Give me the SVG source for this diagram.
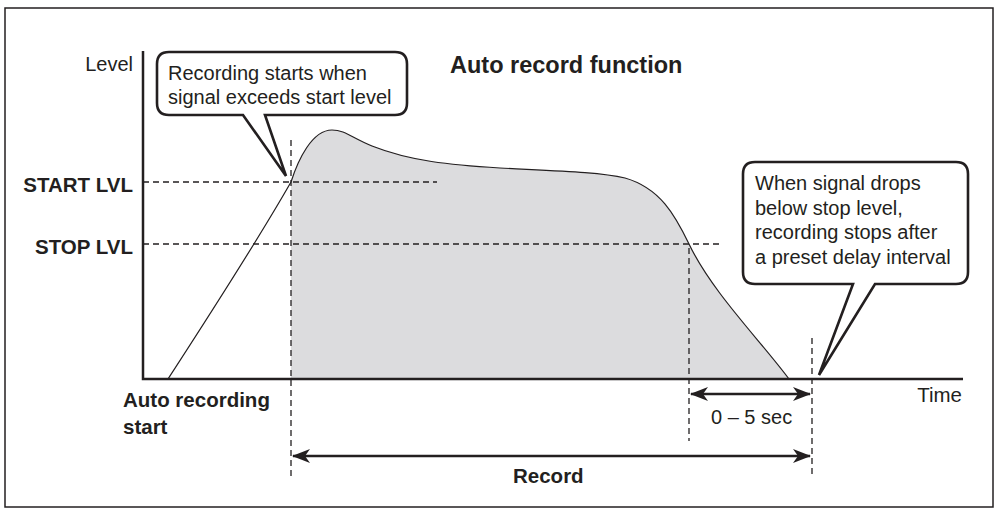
<svg xmlns="http://www.w3.org/2000/svg" width="998" height="509" viewBox="0 0 998 509">
<style>
.t{font-family:"Liberation Sans",Arial,Helvetica,sans-serif;fill:#231f20;font-size:20px}
.b{font-weight:bold;font-size:20.5px}
.ttl{font-weight:bold;font-size:23.5px}
.m{font-size:20.5px}
.axis{stroke:#231f20;stroke-width:2.5;fill:none}
.dash{stroke:#231f20;stroke-width:1.3;stroke-dasharray:6 4;fill:none}
.bubble{fill:#fff;stroke:#231f20;stroke-width:2.6;stroke-linejoin:miter}
.arr{stroke:#231f20;stroke-width:2.5;fill:none}
</style>
<defs>
<marker id="ah" viewBox="0 0 18 14" refX="17" refY="7" markerWidth="18" markerHeight="14" markerUnits="userSpaceOnUse" orient="auto-start-reverse">
<path d="M0,0 L18,7 L0,14 L5,7 Z" fill="#231f20"/>
</marker>
</defs>
<rect x="5" y="8" width="988" height="499" fill="#fff" stroke="#231f20" stroke-width="1.5"/>
<g id="signal">
<path d="M291,379 L291,182 C298,160 312,130 332,130 C345,130 352,138 372,146 C410,161 450,165 500,168 C560,171 600,172 625,178 C660,188 675,215 689,244 C712,292 760,340 789,379 Z" fill="#dcdcde"/>
<path d="M168,379 C205,322 255,245 291,182 C298,160 312,130 332,130 C345,130 352,138 372,146 C410,161 450,165 500,168 C560,171 600,172 625,178 C660,188 675,215 689,244 C712,292 760,340 789,379" fill="none" stroke="#231f20" stroke-width="1.2"/>
</g>
<g id="guides">
<line class="dash" x1="143" y1="182" x2="437" y2="182"/>
<line class="dash" x1="143" y1="244" x2="722" y2="244"/>
<line class="dash" x1="291" y1="140" x2="291" y2="480"/>
<line class="dash" x1="689" y1="248" x2="689" y2="441"/>
<line class="dash" x1="812" y1="338" x2="812" y2="477"/>
</g>
<g id="axes">
<polyline class="axis" points="143,51 143,379 963,379"/>
</g>
<g id="connectors">
<line class="arr" x1="691" y1="394" x2="810" y2="394" marker-start="url(#ah)" marker-end="url(#ah)"/>
<line class="arr" x1="293" y1="456" x2="810" y2="456" marker-start="url(#ah)" marker-end="url(#ah)"/>
</g>
<g id="callout-start">
<path class="bubble" d="M169,52 H395 Q407,52 407,64 V103 Q407,115 395,115 H265 L286,176 L243,115 H169 Q157,115 157,103 V64 Q157,52 169,52 Z"/>
<text class="t" x="168" y="79.5">Recording starts when</text>
<text class="t" x="168" y="103.5">signal exceeds start level</text>
</g>
<g id="callout-stop">
<path class="bubble" d="M755,162 H956 Q968,162 968,174 V272 Q968,284 956,284 H875 L819,375 L853,284 H755 Q743,284 743,272 V174 Q743,162 755,162 Z"/>
<text class="t" x="755" y="190">When signal drops</text>
<text class="t" x="755" y="214.5">below stop level,</text>
<text class="t" x="755" y="239">recording stops after</text>
<text class="t" x="755" y="263.5">a preset delay interval</text>
</g>
<g id="labels">
<text class="t" x="133" y="71" text-anchor="end">Level</text>
<text class="t ttl" x="450" y="73">Auto record function</text>
<text class="t b" x="133" y="192" text-anchor="end">START LVL</text>
<text class="t b" x="133" y="254" text-anchor="end">STOP LVL</text>
<text class="t b" x="123" y="407">Auto recording</text>
<text class="t b" x="123" y="434">start</text>
<text class="t m" x="962" y="402" text-anchor="end">Time</text>
<text class="t" x="711" y="424">0 – 5 sec</text>
<text class="t b" x="513" y="483">Record</text>
</g>
</svg>
